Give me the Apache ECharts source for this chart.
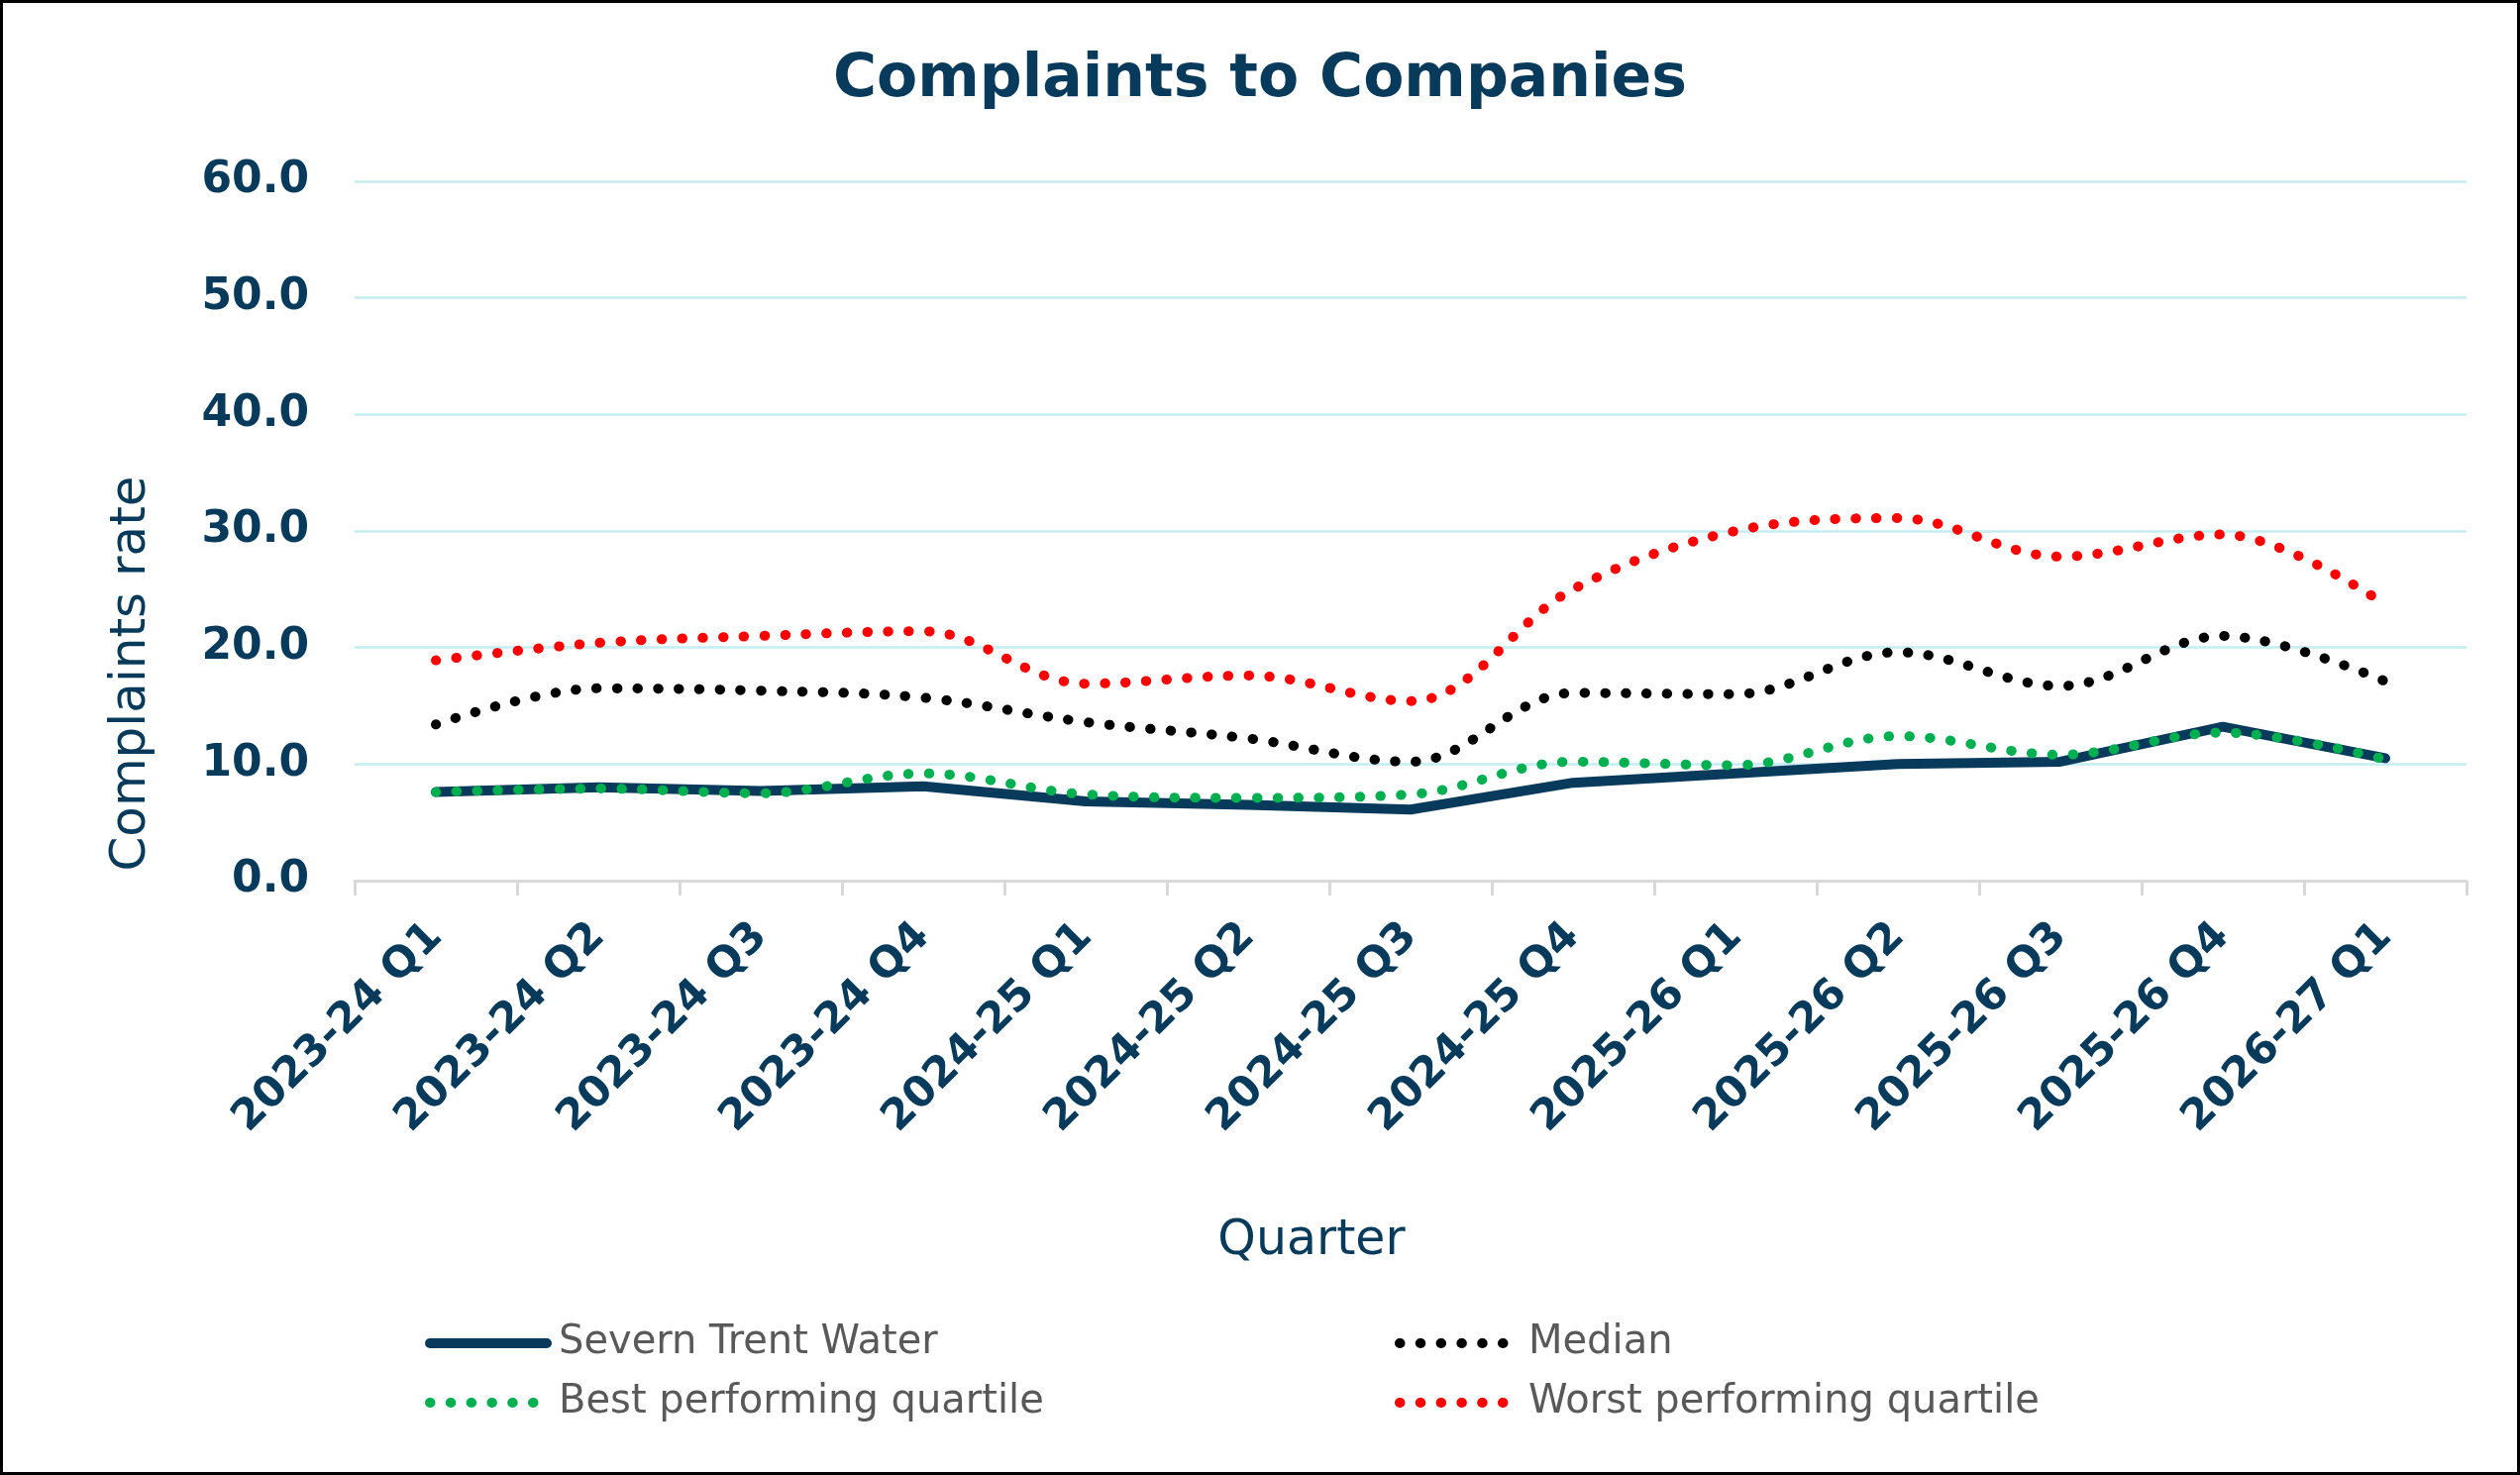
<!DOCTYPE html>
<html>
<head>
<meta charset="utf-8">
<script src="https://cdn.jsdelivr.net/npm/echarts@6/dist/echarts.min.js"></script>
<style>
  html, body { margin: 0; padding: 0; background: #fff; }
  #chart { width: 2544px; height: 1489px; }
</style>
</head>
<body>
<div id="chart"></div>
<script>
// quarters on the x axis
var quarters = ['2023-24 Q1', '2023-24 Q2', '2023-24 Q3', '2023-24 Q4',
                '2024-25 Q1', '2024-25 Q2', '2024-25 Q3', '2024-25 Q4',
                '2025-26 Q1', '2025-26 Q2', '2025-26 Q3', '2025-26 Q4',
                '2026-27 Q1'];
// complaints rate per series
var severnTrent = [7.6, 8.0, 7.7, 8.1, 6.8, 6.5, 6.1, 8.4, 9.2, 10.0, 10.2, 13.2, 10.5];
var median      = [13.4, 16.5, 16.3, 15.7, 13.6, 12.2, 10.2, 16.1, 16.0, 19.6, 16.7, 21.0, 17.1];
var bestQuart   = [7.6, 7.9, 7.5, 9.2, 7.4, 7.1, 7.4, 10.2, 9.9, 12.4, 10.8, 12.7, 10.4];
var worstQuart  = [18.9, 20.4, 21.0, 21.4, 16.9, 17.6, 15.4, 25.0, 30.0, 31.1, 27.8, 29.7, 23.7];
var yTicks = [0, 10, 20, 30, 40, 50, 60];

var navy = '#073A5B';
var font = 'DejaVu Sans';

function dotted(name, data, color) {
    return {
        name: name,
        type: 'line',
        data: data,
        symbol: 'none',
        smooth: 0.35,
        lineStyle: {
            color: color,
            width: 10,
            type: [0.5, 20.3],
            cap: 'round'
        },
        itemStyle: { color: color }
    };
}

// legend column, icon = line only (symbol hidden)
function legendCol(names, left) {
    return {
        data: names,
        orient: 'vertical',
        left: left,
        top: 1331,
        itemWidth: 118,
        itemHeight: 30,
        itemGap: 20,
        itemStyle: { opacity: 0, borderWidth: 0 },
        lineStyle: { width: 'inherit' },
        textStyle: { fontFamily: font, fontSize: 40, lineHeight: 40, color: '#595959', padding: [0, 0, 0, 7] }
    };
}

var option = {
    backgroundColor: '#fff',
    animation: false,
    title: {
        text: 'Complaints to Companies',
        left: 'center',
        top: 46,
        textStyle: { fontFamily: font, fontSize: 60, fontWeight: 'bold', color: navy }
    },
    grid: { left: 358, right: 54, top: 183, bottom: 600, containLabel: false },
    legend: [
        legendCol(['Severn Trent Water', 'Best performing quartile'], 424),
        legendCol(['Median', 'Worst performing quartile'], 1403)
    ],
    xAxis: {
        type: 'category',
        data: quarters,
        boundaryGap: true,
        axisLine: { show: true, lineStyle: { color: '#D9D9D9', width: 3 } },
        axisTick: { show: true, length: 15, lineStyle: { color: '#D9D9D9', width: 3 } },
        axisLabel: {
            rotate: 45,
            margin: 50,
            interval: 0,
            fontFamily: font,
            fontSize: 43,
            fontWeight: 'bold',
            color: navy
        },
        splitLine: { show: false }
    },
    yAxis: {
        type: 'value',
        min: yTicks[0],
        max: yTicks[yTicks.length - 1],
        interval: 10,
        axisLine: { show: false },
        axisTick: { show: false },
        axisLabel: {
            margin: 46,
            fontFamily: font,
            fontSize: 44,
            fontWeight: 'bold',
            color: navy,
            formatter: function (v) { return v.toFixed(1); }
        },
        splitLine: { show: true, lineStyle: { color: '#C3EDF0', width: 2.5 } }
    },
    graphic: [{
        type: 'rect',
        shape: { x: 0, y: 0, width: 2544, height: 1489 },
        style: { fill: 'none', stroke: '#000', lineWidth: 6 },
        silent: true,
        z: 100
    }, {
        type: 'text',
        x: 133,
        y: 680,
        rotation: Math.PI / 2,
        style: {
            text: 'Complaints rate',
            font: '50px "DejaVu Sans"',
            fill: navy,
            align: 'center', verticalAlign: 'middle',
            textAlign: 'center', textVerticalAlign: 'middle'
        }
    }, {
        type: 'text',
        x: 1324,
        y: 1253,
        style: {
            text: 'Quarter',
            font: '49px "DejaVu Sans"',
            fill: navy,
            align: 'center', verticalAlign: 'middle',
            textAlign: 'center', textVerticalAlign: 'middle'
        }
    }],
    series: [{
        name: 'Severn Trent Water',
        type: 'line',
        data: severnTrent,
        symbol: 'none',
        lineStyle: { color: navy, width: 10, cap: 'round', join: 'round' },
        itemStyle: { color: navy }
    },
        dotted('Median', median, '#000000'),
        dotted('Best performing quartile', bestQuart, '#00B050'),
        dotted('Worst performing quartile', worstQuart, '#FF0000')
    ]
};

var myChart = echarts.init(document.getElementById('chart'));
myChart.setOption(option);
</script>
</body>
</html>
